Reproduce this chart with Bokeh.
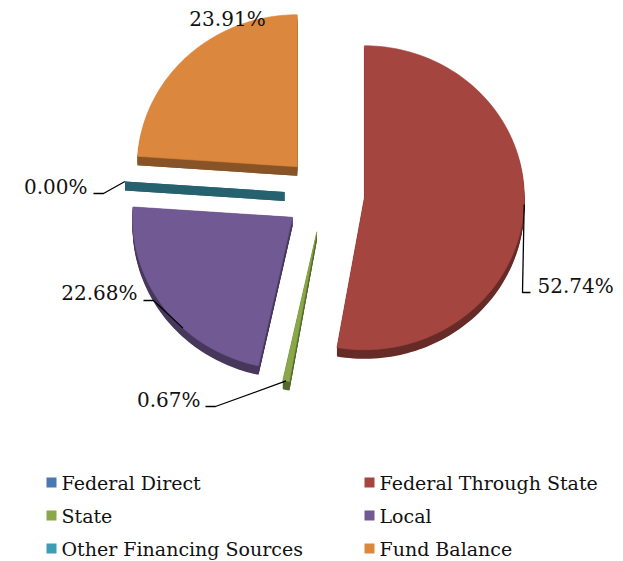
import numpy as np
from bokeh.plotting import figure
from bokeh.models import Range1d
from bokeh.embed import file_html
from bokeh.resources import INLINE
from bokeh.core.properties import value

# ---- data ----
categories = ["Federal Direct", "Federal Through State", "State", "Local",
              "Other Financing Sources", "Fund Balance"]
shares = [0.00, 52.74, 0.67, 22.68, 0.00, 23.91]
show_label = [False, True, True, True, True, True]

# ---- style ----
colors = ["#4A78B0", "#A5453F", "#8AA84A", "#715993", "#3E9DB5", "#DC873E"]
FONT = value("DejaVu Serif")
CX, CY = 324, 194          # pie centre (pixel space)
RX, RY = 160, 152          # radii of the tilted top face
EXPLODE = 40
DEPTH = 9
# label placement: (x, y, align) and leader elbow / end
label_pos = {1: (537, 285, "left"), 2: (200, 399, "right"), 3: (137, 292, "right"),
             4: (87, 186, "right"), 5: (227, 18, "center")}
leader_angle = {1: 0.257, 2: None, 3: 0.62, 4: None}   # fraction of full turn for anchor
leader_elbow = {1: [(522, 292), (530, 292)], 2: [(215, 406), (205, 406)],
                3: [(153, 300), (143, 300)], 4: [(103, 193), (93, 193)]}


def darken(hex_color, f):
    h = hex_color.lstrip("#")
    r, g, b = (int(h[i:i + 2], 16) for i in (0, 2, 4))
    return "#%02x%02x%02x" % (int(r * f), int(g * f), int(b * f))


p = figure(width=623, height=561, x_range=Range1d(0, 623), y_range=Range1d(561, 0),
           output_backend="svg", toolbar_location=None, min_border=0,
           x_axis_location=None, y_axis_location=None)
p.grid.visible = False
p.outline_line_color = None
p.background_fill_color = "white"
p.border_fill_color = "white"

cum = np.concatenate([[0.0], np.cumsum(shares)]) / 100.0 * 2 * np.pi
starts, ends = cum[:-1], cum[1:]

tops_x, tops_y, tops_c = [], [], []
side_x, side_y, side_c = [], [], []
apexes = []
for i, cat in enumerate(categories):
    s, e = starts[i], ends[i]
    mid = (s + e) / 2
    ax = CX + EXPLODE * np.sin(mid)
    ay = CY - EXPLODE * (RY / RX) * np.cos(mid)
    apexes.append((ax, ay))
    n = max(2, int((e - s) / (2 * np.pi) * 240) + 2)
    t = np.linspace(s, e, n)
    px = np.concatenate([[ax], ax + RX * np.sin(t)])
    py = np.concatenate([[ay], ay - RY * np.cos(t)])
    dc = darken(colors[i], 0.62)
    # extruded side: shifted copies + radial cut faces
    for k in range(1, DEPTH + 1):
        side_x.append(list(px)); side_y.append(list(py + k)); side_c.append(dc)
    for tt in (s, e):
        ox, oy = ax + RX * np.sin(tt), ay - RY * np.cos(tt)
        side_x.append([ax, ox, ox, ax]); side_y.append([ay, oy, oy + DEPTH, ay + DEPTH])
        side_c.append(dc)
    if e - s > 1e-9:
        tops_x.append(list(px)); tops_y.append(list(py)); tops_c.append(colors[i])

p.patches(side_x, side_y, fill_color=side_c, line_color=None)
p.patches(tops_x, tops_y, fill_color=tops_c, line_color=tops_c, line_width=0.6)

# labels
lx, ly, lt, la = [], [], [], []
for i in range(len(categories)):
    if not show_label[i]:
        continue
    x, y, al = label_pos[i]
    lx.append(x); ly.append(y); lt.append("%.2f%%" % shares[i]); la.append(al)
for al in ("left", "right", "center"):
    idx = [j for j in range(len(lx)) if la[j] == al]
    p.text([lx[j] for j in idx], [ly[j] for j in idx], [lt[j] for j in idx],
           text_font=FONT, text_font_size="20px", text_align=al,
           text_baseline="middle", text_color="#111111")

# leader lines
lxs, lys = [], []
for i, elbow in leader_elbow.items():
    ax, ay = apexes[i]
    if leader_angle[i] is None:
        tt = (starts[i] + ends[i]) / 2
    else:
        tt = leader_angle[i] * 2 * np.pi
    anchor = (ax + RX * np.sin(tt), ay - RY * np.cos(tt))
    pts = [anchor] + elbow
    lxs.append([q[0] for q in pts]); lys.append([q[1] for q in pts])
p.multi_line(lxs, lys, line_color="black", line_width=1.3)

# legend (two columns, row-major)
col_x = [51, 369]
row_y = [482, 515, 548]
sq_x, sq_y, tx, ty = [], [], [], []
for i, cat in enumerate(categories):
    r, c = divmod(i, 2)
    sq_x.append(col_x[c]); sq_y.append(row_y[r])
    tx.append(col_x[c] + 10); ty.append(row_y[r])
p.rect(sq_x, sq_y, width=10, height=10, fill_color=colors, line_color=None)
p.text(tx, ty, categories, text_font=FONT, text_font_size="19px",
       text_baseline="middle", text_color="#111111")

open("out.html", "w").write(file_html(p, INLINE))
